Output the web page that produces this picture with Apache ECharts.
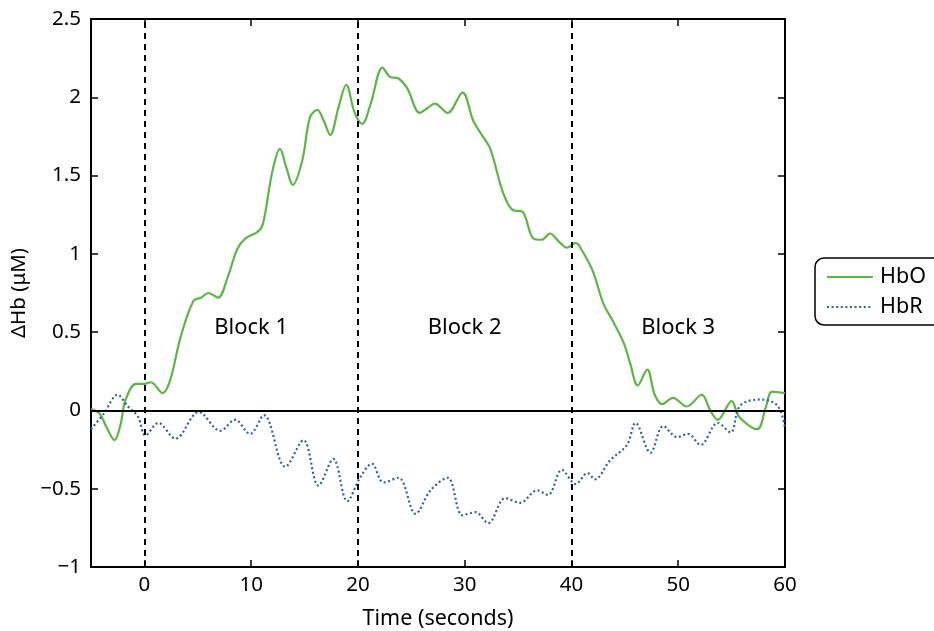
<!DOCTYPE html>
<html>
<head>
<meta charset="utf-8">
<script src="https://cdn.jsdelivr.net/npm/echarts@6/dist/echarts.min.js"></script>
<style>html,body{margin:0;padding:0;background:#fff;}#c{width:934px;height:631px;}</style>
</head>
<body>
<div id="c"></div>
<script>
// ---- data ----
const hboTime = [-5,-4.2,-3.6,-2.8,-2.2,-1.8,-0.8,0,0.6,1.7,2.4,3.4,4.6,5.3,6.0,6.9,7.8,8.7,9.5,10.6,11.1,12.0,12.7,13.3,13.9,14.8,15.5,16.2,16.8,17.4,18.2,18.9,19.7,20.4,21.2,22.3,23.0,23.8,24.6,25.8,26.5,27.2,28.4,29.8,30.8,31.6,32.4,33.6,34.5,35.4,36.4,37.2,38.0,38.8,39.6,40.4,41.0,42.0,43.0,43.8,44.9,45.5,46.2,47.1,47.8,48.5,49.5,50.8,52.2,53.0,53.7,55.0,55.7,57.4,58.2,58.8,60];
const hboValues = [0.01,-0.02,-0.10,-0.19,-0.08,0.06,0.17,0.17,0.18,0.11,0.19,0.47,0.70,0.72,0.75,0.72,0.85,1.03,1.10,1.14,1.19,1.53,1.67,1.55,1.44,1.60,1.87,1.92,1.85,1.76,1.94,2.08,1.90,1.83,1.96,2.19,2.13,2.12,2.06,1.90,1.93,1.96,1.90,2.03,1.85,1.76,1.67,1.39,1.28,1.27,1.10,1.09,1.13,1.08,1.04,1.07,1.02,0.89,0.68,0.58,0.43,0.30,0.16,0.26,0.10,0.04,0.08,0.025,0.10,0.00,-0.06,0.06,-0.04,-0.12,0.02,0.12,0.11];
const hbrTime = [-5,-3.8,-2.5,-1.6,-0.6,0.1,1.3,2.9,5.1,7.1,8.5,9.9,11.2,13.2,14.9,16.3,17.7,19.0,20.2,21.3,22.4,23.8,25.4,26.8,28.4,29.8,31.0,32.2,33.8,35.2,36.8,37.8,39.1,40.4,41.5,42.2,43.6,45.2,46.0,47.4,48.6,49.9,50.9,52.1,53.7,54.9,55.8,57.7,59.3,60];
const hbrValues = [-0.12,-0.02,0.10,0.03,-0.04,-0.16,-0.08,-0.18,-0.01,-0.13,-0.06,-0.15,-0.03,-0.36,-0.19,-0.48,-0.31,-0.58,-0.43,-0.34,-0.46,-0.43,-0.66,-0.51,-0.43,-0.67,-0.65,-0.72,-0.56,-0.59,-0.51,-0.54,-0.38,-0.47,-0.40,-0.44,-0.32,-0.22,-0.08,-0.27,-0.10,-0.17,-0.15,-0.22,-0.08,-0.14,0.03,0.07,0.03,-0.11];
const seriesNames = ['HbO', 'HbR'];
const blockNames = ['Block 1', 'Block 2', 'Block 3'];
const blockX = [10, 30, 50];
const blockY = 0.53;
const blockBoundaries = [0, 20, 40];
const xTicks = [0, 10, 20, 30, 40, 50, 60];
const yTicks = [-1, -0.5, 0, 0.5, 1, 1.5, 2, 2.5];

const FONT = 'Noto Sans';
const pair = (t, v) => t.map((x, i) => [x, v[i]]);
const fmtY = v => String(v).replace('-', '\u2212');

const chart = echarts.init(document.getElementById('c'), null, {renderer: 'canvas'});
const axisLine = {show: true, onZero: false, lineStyle: {color: '#000', width: 2}};
const tick = {show: true, inside: true, length: 7, lineStyle: {color: '#000', width: 1.5}};

chart.setOption({
  animation: false,
  backgroundColor: '#fff',
  textStyle: {fontFamily: FONT},
  grid: {left: 91, right: 149, top: 19, bottom: 64, containLabel: false, outerBoundsMode: 'none'},
  legend: {
    data: seriesNames,
    orient: 'vertical',
    left: 815, top: 258,
    padding: [8, 40, 7, 11],
    itemWidth: 46, itemHeight: 14, itemGap: 8,
    itemStyle: {opacity: 0},
    borderColor: '#000', borderWidth: 1.5, borderRadius: 9,
    textStyle: {fontFamily: FONT, fontSize: 21.5, color: '#000', padding: [0,0,0,2]}
  },
  xAxis: [{
    type: 'value', min: -5, max: 60, position: 'bottom',
    name: 'Time (seconds)', nameLocation: 'middle', nameGap: 41,
    nameTextStyle: {fontFamily: FONT, fontSize: 21.5, color: '#000'},
    axisLine: axisLine,
    axisTick: Object.assign({customValues: xTicks}, tick),
    axisLabel: {customValues: xTicks, fontFamily: FONT, fontSize: 20.5, color: '#000', margin: 8},
    splitLine: {show: false}
  }, {
    type: 'value', min: -5, max: 60, position: 'top',
    axisLine: axisLine,
    axisTick: Object.assign({customValues: xTicks}, tick),
    axisLabel: {show: false},
    splitLine: {show: false}
  }],
  yAxis: [{
    type: 'value', min: -1, max: 2.5, interval: 0.5, position: 'left',
    name: '\u0394Hb (\u03bcM)', nameLocation: 'middle', nameGap: 60, nameRotate: 90,
    nameTextStyle: {fontFamily: FONT, fontSize: 20.5, color: '#000'},
    axisLine: axisLine, axisTick: tick,
    axisLabel: {formatter: fmtY, fontFamily: FONT, fontSize: 20.5, color: '#000', margin: 10},
    splitLine: {show: false}
  }, {
    type: 'value', min: -1, max: 2.5, interval: 0.5, position: 'right',
    axisLine: axisLine, axisTick: tick, axisLabel: {show: false},
    splitLine: {show: false}
  }],
  series: [{
    name: 'HbO', type: 'line', data: pair(hboTime, hboValues),
    smooth: 0.35, symbol: 'none', showSymbol: false,
    lineStyle: {color: '#5cb646', width: 2.2}, itemStyle: {color: '#5cb646'},
    z: 4,
    markLine: {
      silent: true, symbol: 'none', label: {show: false},
      data: [
        ...blockBoundaries.map(x => ({xAxis: x, lineStyle: {color: '#000', width: 2, type: [6, 5]}})),
        {yAxis: 0, lineStyle: {color: '#000', width: 2, type: 'solid'}}
      ]
    }
  }, {
    name: 'HbR', type: 'line', data: pair(hbrTime, hbrValues),
    smooth: 0.35, symbol: 'none', showSymbol: false,
    lineStyle: {color: '#2b5fb4', width: 2.2, type: [2, 2.6]}, itemStyle: {color: '#2b5fb4'},
    z: 4
  }, {
    name: 'blocks', type: 'scatter', symbolSize: 0, silent: true,
    data: blockNames.map((n, i) => ({name: n, value: [blockX[i], blockY]})),
    label: {show: true, position: 'inside', formatter: p => p.name, fontFamily: FONT, fontSize: 22,
            color: '#000', textBorderWidth: 0, opacity: 1}
  }]
});
</script>
</body>
</html>
